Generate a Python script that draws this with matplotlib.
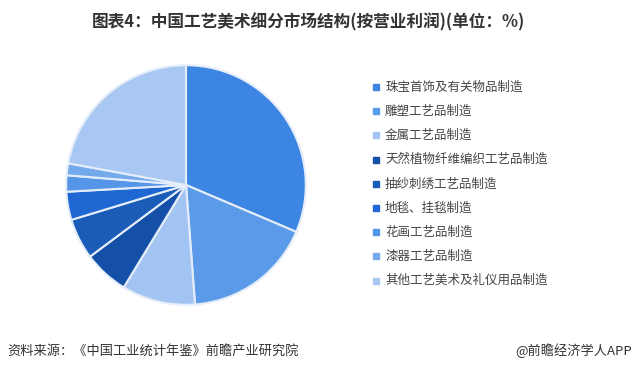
import numpy as np
import matplotlib.pyplot as plt

plt.rcParams['font.family'] = ['Noto Sans CJK SC', 'DejaVu Sans']

## data
Labels = ['珠宝首饰及有关物品制造', '雕塑工艺品制造', '金属工艺品制造',
          '天然植物纤维编织工艺品制造', '抽纱刺绣工艺品制造', '地毯、挂毯制造',
          '花画工艺品制造', '漆器工艺品制造', '其他工艺美术及礼仪用品制造']
Shares = [31.4, 17.4, 9.9, 6.1, 5.5, 3.8, 2.2, 1.6, 22.1]
Colors = ['#3c85e3', '#5a9ae8', '#a2c4f2', '#1550a8', '#1a5cb8', '#1f67d2',
          '#5596e8', '#74a9ec', '#a8c8f3']

fig = plt.figure(figsize=(6.37, 3.71), dpi=100)

# pie, radius ~120 px around (186, 185)
ax = fig.add_axes([(186 - 121)/637, 1 - (185 + 121)/371, 242/637, 242/371])
ax.pie(Shares, colors=Colors, startangle=90, counterclock=False,
       wedgeprops=dict(edgecolor='#e4edf9', linewidth=1.5))
ax.set_xlim(-1.01, 1.01)
ax.set_ylim(-1.01, 1.01)
ax.set_aspect('equal')

# legend, drawn by hand to get the spacing
y0 = 87
for i in range(len(Labels)):
    y = 1 - (y0 + i * 24.2) / 371
    fig.patches.append(plt.Rectangle((373/637, y - 3/371), 6/637, 6/371,
                                     transform=fig.transFigure, color=Colors[i], figure=fig))
    fig.text(385/637, y, Labels[i], fontsize=9, color='#444444', va='center', ha='left')

# titles
fig.text(308/637, 1 - 22/371, '图表4：中国工艺美术细分市场结构(按营业利润)(单位：%)',
         fontsize=12, fontweight='bold', color='#333333', ha='center', va='center')
fig.text(7/637, 1 - 351/371, '资料来源：《中国工业统计年鉴》前瞻产业研究院',
         fontsize=9.5, color='#333333', ha='left', va='center')
fig.text(632/637, 1 - 351/371, '@前瞻经济学人APP',
         fontsize=9.5, color='#333333', ha='right', va='center')

fig.savefig('out.png', dpi=100)
